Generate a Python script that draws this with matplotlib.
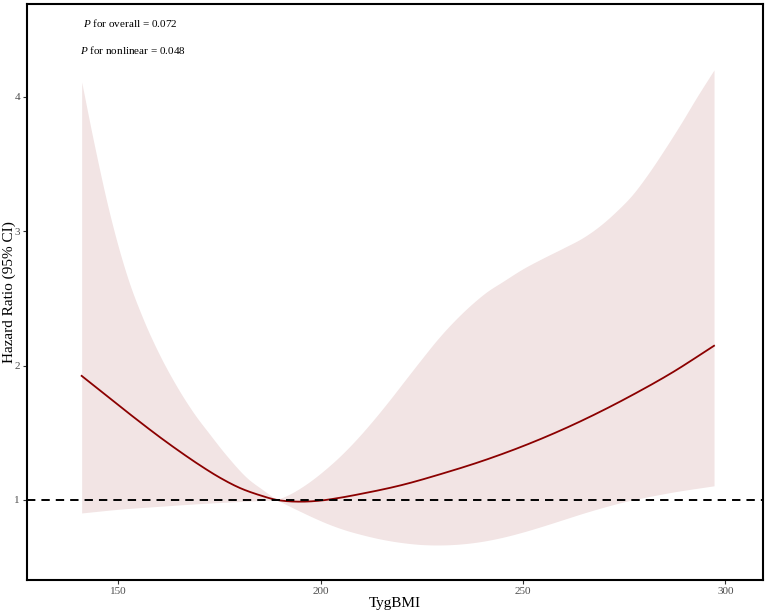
import matplotlib
matplotlib.use("Agg")
import matplotlib.pyplot as plt
import numpy as np

plt.rcParams['font.family'] = ['Liberation Serif', 'DejaVu Serif']
plt.rcParams['mathtext.fontset'] = 'custom'
plt.rcParams['mathtext.it'] = 'Liberation Serif:italic'
plt.rcParams['mathtext.rm'] = 'Liberation Serif'

# reference value where the CI pinches to HR = 1
x_ref = 189.2

# HR curve
x_hr = [141, 145, 150, 155, 160, 165, 170, 175, 180, 185, 189.2, 192, 195, 200,
        205, 210, 220, 230, 240, 250, 261, 270, 277, 287, 297.2]
hr = [1.923, 1.827, 1.707, 1.589, 1.474, 1.365, 1.262, 1.168, 1.09, 1.035, 1.0,
      0.99, 0.987, 0.995, 1.017, 1.045, 1.11, 1.195, 1.29, 1.40, 1.54, 1.67,
      1.78, 1.95, 2.147]

# upper 95% CI
x_up = [141, 144, 148, 152.5, 156, 160.4, 164, 168.6, 172.6, 176.8, 182, 186,
        189.2, 193, 197, 201, 205, 209, 213, 217, 221, 225, 229, 233, 237, 241,
        245, 250, 255, 260, 265, 269, 273, 277, 281, 285, 289, 293, 297.2]
ci_up = [4.11, 3.66, 3.12, 2.64, 2.36, 2.07, 1.87, 1.65, 1.49, 1.33, 1.16, 1.07,
         1.0, 1.053, 1.129, 1.223, 1.331, 1.455, 1.593, 1.741, 1.896, 2.05, 2.199,
         2.331, 2.447, 2.547, 2.625, 2.72, 2.80, 2.875, 2.955, 3.04, 3.146, 3.27,
         3.43, 3.61, 3.80, 4.0, 4.20]

# lower 95% CI
x_lo = [141, 150, 160, 170, 180, 189.2, 194, 198, 202, 206, 210, 215, 220, 225,
        230, 235, 240, 245, 250, 255, 260, 265, 270, 275, 280, 287, 297.2]
ci_lo = [0.903, 0.93, 0.952, 0.972, 0.988, 1.0, 0.929, 0.872, 0.82, 0.777, 0.743,
         0.708, 0.683, 0.668, 0.665, 0.673, 0.692, 0.722, 0.761, 0.806, 0.854,
         0.902, 0.946, 0.986, 1.018, 1.058, 1.105]

p_overall = "0.072"
p_nonlinear = "0.048"


def hermite(x, y, xs):
    x = np.asarray(x, float)
    y = np.asarray(y, float)
    dx = np.diff(x)
    d = np.diff(y) / dx
    m = np.empty_like(y)
    m[0], m[-1] = d[0], d[-1]
    m[1:-1] = (d[:-1] * dx[1:] + d[1:] * dx[:-1]) / (dx[1:] + dx[:-1])
    i = np.clip(np.searchsorted(x, xs) - 1, 0, len(x) - 2)
    h = x[i + 1] - x[i]
    t = (xs - x[i]) / h
    return ((2 * t**3 - 3 * t**2 + 1) * y[i] + (t**3 - 2 * t**2 + t) * h * m[i]
            + (-2 * t**3 + 3 * t**2) * y[i + 1] + (t**3 - t**2) * h * m[i + 1])


def smooth(x, y, xs, knot=None):
    # smooth through the read points; keep the sharp pinch at the reference
    if knot is None:
        return hermite(x, y, xs)
    x = np.asarray(x, float)
    y = np.asarray(y, float)
    k = int(np.argmin(abs(x - knot)))
    left = xs <= x[k]
    out = np.empty_like(xs)
    out[left] = hermite(x[:k + 1], y[:k + 1], xs[left])
    out[~left] = hermite(x[k:], y[k:], xs[~left])
    return out


xs = np.linspace(141, 297.2, 800)
up = smooth(x_up, ci_up, xs, x_ref)
lo = smooth(x_lo, ci_lo, xs, x_ref)
mid = smooth(x_hr, hr, xs)

fig = plt.figure(figsize=(7.67, 6.13), dpi=100)
ax = fig.add_axes([0.0352, 0.0538, 0.9596, 0.9397])

ax.fill_between(xs, lo, up, color='#F2E4E4', linewidth=0)
ax.plot(xs, mid, color='#8B0000', linewidth=1.3)
ax.axhline(1, color='black', linestyle=(0, (4.3, 3.1)), linewidth=1.4)

ax.set_xlim(127.5, 309.3)
ax.set_ylim(0.404, 4.69)
ax.set_xticks([150, 200, 250, 300])
ax.set_yticks([1, 2, 3, 4])

for s in ax.spines.values():
    s.set_linewidth(1.5)
    s.set_color('black')
ax.tick_params(axis='both', length=3, width=0.8, color='#333333',
               labelcolor='#4D4D4D', labelsize=8, pad=2)

ax.set_xlabel("TygBMI", fontsize=11, labelpad=1)
ax.set_ylabel("Hazard Ratio (95% CI)", fontsize=11)
ax.yaxis.set_label_coords(-0.0155, 0.5)

fig.text(130 / 767, 1 - 23 / 613, r"$P$ for overall = " + p_overall, fontsize=8,
         ha='center', va='center')
fig.text(133 / 767, 1 - 50 / 613, r"$P$ for nonlinear = " + p_nonlinear, fontsize=8,
         ha='center', va='center')

fig.savefig("out.png", dpi=100)
